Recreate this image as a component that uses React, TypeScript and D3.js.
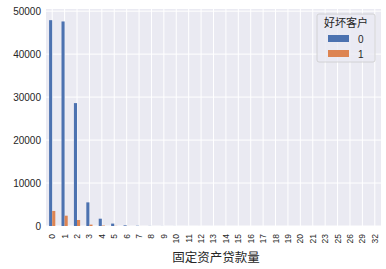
import React from "react";
import * as d3 from "d3";

const categories = ["0","1","2","3","4","5","6","7","8","9","10","11","12","13","14","15","16","17","18","19","20","21","23","25","26","29","32"];
const good = [47900, 47600, 28600, 5500, 1700, 560, 160, 60, 25, 12, 8, 5, 4, 3, 2, 2, 1, 1, 1, 1, 1, 1, 1, 1, 1, 1, 1];
const bad = [3500, 2400, 1400, 320, 110, 35, 10, 4, 2, 1, 1, 0, 0, 0, 0, 0, 0, 0, 0, 0, 0, 0, 0, 0, 0, 0, 0];
const seriesNames = ["0", "1"];
const colors = ["#4C72B0", "#DD8452"];
const yTicks = [0, 10000, 20000, 30000, 40000, 50000];
const legendTitle = "好坏客户";
const xLabel = "固定资产贷款量";

export default function App() {
  const W = 386, H = 269;
  const left = 46, right = 381, top = 9, bottom = 226;
  const x = d3.scaleLinear().domain([-0.5, categories.length - 0.5]).range([left, right]);
  const y = d3.scaleLinear().domain([0, 50500]).range([bottom, top]);
  const font = "'Liberation Sans', Arial, 'Noto Sans CJK SC', sans-serif";
  const series = [good, bad];
  const bw = 0.25;
  return (
    <svg width={W} height={H} style={{ position: "absolute", left: 0, top: 0 }} fontFamily={font}>
      <rect x={0} y={0} width={W} height={H} fill="#ffffff" />
      <rect x={left} y={top} width={right - left} height={bottom - top} fill="#EAEAF2" />
      {yTicks.map((t) => (
        <line key={"gy" + t} x1={left} x2={right} y1={y(t)} y2={y(t)} stroke="#ffffff" strokeWidth={1} />
      ))}
      {categories.map((c, i) => (
        <line key={"gx" + c} x1={x(i)} x2={x(i)} y1={top} y2={bottom} stroke="#ffffff" strokeWidth={1} />
      ))}
      {series.map((vals, s) =>
        vals.map((v, i) => {
          const x0 = x(i - 0.25 + s * bw);
          const x1 = x(i - 0.25 + (s + 1) * bw);
          return (
            <rect key={s + "-" + i} x={x0} y={y(v)} width={x1 - x0} height={y(0) - y(v)} fill={colors[s]} />
          );
        })
      )}
      {yTicks.map((t) => (
        <text key={"ty" + t} x={left - 5} y={y(t)} dy="0.35em" textAnchor="end" fontSize={10} fill="#262626">
          {t}
        </text>
      ))}
      {categories.map((c, i) => (
        <text
          key={"tx" + c}
          transform={`translate(${x(i)},${bottom + 8}) rotate(-90)`}
          textAnchor="end"
          dy="0.35em"
          fontSize={8.5}
          fill="#262626"
        >
          {c}
        </text>
      ))}
      <text x={216} y={262} textAnchor="middle" fontSize={12.5} fill="#262626" fontFamily="'Noto Sans CJK SC', sans-serif">
        {xLabel}
      </text>
      <g transform="translate(317,14)">
        <rect x={0} y={0} width={58} height={48} rx={2} fill="#EAEAF2" fillOpacity={0.8} stroke="#cccccc" strokeWidth={0.8} />
        <text x={29} y={13} textAnchor="middle" fontSize={11} fill="#262626" fontFamily="'Noto Sans CJK SC', sans-serif">
          {legendTitle}
        </text>
        {seriesNames.map((n, k) => (
          <g key={n} transform={`translate(0,${24 + k * 15})`}>
            <rect x={11} y={-3} width={21} height={7} fill={colors[k]} />
            <text x={41} y={1} dy="0.35em" fontSize={10} fill="#262626">
              {n}
            </text>
          </g>
        ))}
      </g>
    </svg>
  );
}
